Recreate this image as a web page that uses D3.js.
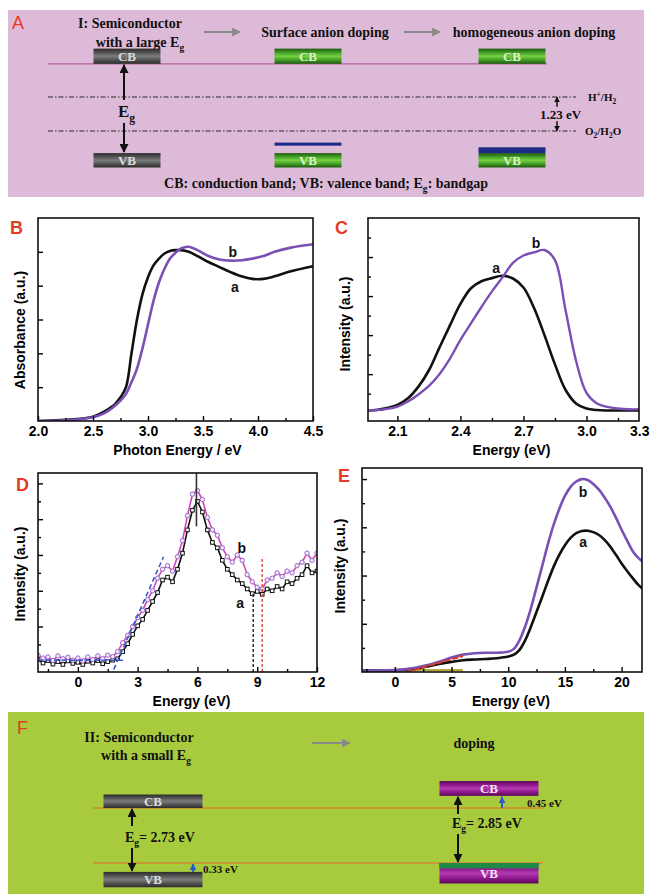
<!DOCTYPE html>
<html>
<head>
<meta charset="utf-8">
<script src="https://cdn.jsdelivr.net/npm/d3@7"></script>
<style>
  body { margin: 0; background: #fff; }
  svg { display: block; }
</style>
</head>
<body>
<svg id="chart" width="650" height="894"></svg>
<script>
// ---------- data ----------
// B: UV-vis absorbance (a.u.) vs photon energy (eV)
var absEnergy = [2.0,2.2,2.4,2.5,2.6,2.65,2.7,2.75,2.8,2.85,2.9,2.95,3.0,3.05,3.1,3.15,3.2,3.25,3.3,3.37,3.45,3.55,3.65,3.75,3.85,3.95,4.05,4.15,4.3,4.5];
var absA = [0,0.005,0.015,0.025,0.055,0.075,0.10,0.14,0.20,0.40,0.60,0.75,0.85,0.92,0.96,0.99,1.005,1.01,1.01,1.0,0.975,0.94,0.91,0.88,0.855,0.84,0.84,0.855,0.885,0.915];
var absB = [0,0.003,0.012,0.022,0.045,0.065,0.09,0.12,0.16,0.23,0.31,0.43,0.57,0.71,0.82,0.90,0.96,0.995,1.02,1.03,1.01,0.975,0.955,0.948,0.95,0.96,0.975,1.0,1.025,1.045];

// C: photoluminescence excitation intensity vs energy (eV)
var plEnergy = [1.95,2.0,2.05,2.1,2.15,2.2,2.25,2.3,2.35,2.4,2.45,2.5,2.55,2.6,2.65,2.7,2.75,2.8,2.85,2.9,2.95,3.0,3.05,3.1,3.15,3.2,3.25];
var plA = [0.06,0.08,0.13,0.21,0.38,0.68,1.10,1.68,2.25,2.80,3.20,3.38,3.46,3.52,3.45,3.22,2.70,2.00,1.25,0.60,0.25,0.12,0.08,0.07,0.07,0.07,0.07];
var plB = [0.06,0.08,0.11,0.17,0.30,0.48,0.70,1.00,1.40,1.88,2.30,2.72,3.12,3.48,3.85,4.04,4.12,4.18,3.92,2.65,1.35,0.52,0.25,0.16,0.12,0.10,0.10];

// D: valence band XPS intensity vs binding energy (eV)
var vbEnergy = [-2,-1.75,-1.5,-1.25,-1,-0.75,-0.5,-0.25,0,0.25,0.5,0.75,1,1.25,1.5,1.75,2,2.25,2.5,2.75,3,3.25,3.5,3.75,4,4.25,4.5,4.75,5,5.25,5.5,5.75,6,6.25,6.5,6.75,7,7.25,7.5,7.75,8,8.25,8.5,8.75,9,9.25,9.5,9.75,10,10.25,10.5,10.75,11,11.25,11.5,11.75,12];
var vbA = [0.08,-0.02,0.05,-0.05,0.02,-0.06,0.04,-0.03,
           0.00,-0.06,0.03,-0.02,0.05,-0.04,0.02,0.06,
           0.10,0.30,0.52,0.78,1.02,1.20,1.45,1.70,
           1.95,2.30,2.38,2.25,2.60,3.05,3.70,4.25,
           4.50,4.20,3.70,3.35,3.20,2.85,2.60,2.45,
           2.30,2.20,2.05,1.92,1.98,1.90,2.05,2.00,
           2.12,2.05,2.25,2.20,2.35,2.45,2.70,2.50,
           2.55];
var vbB = [0.20,0.12,0.15,0.05,0.18,0.10,0.14,0.06,
           0.12,0.04,0.15,0.08,0.18,0.10,0.20,0.16,
           0.30,0.55,0.75,1.00,1.25,1.45,1.75,2.00,
           2.35,2.60,2.70,2.55,2.95,3.40,4.10,4.70,
           4.80,4.55,4.05,3.70,3.55,3.20,2.95,2.80,
           3.00,2.85,2.45,2.25,2.10,2.05,2.30,2.35,
           2.50,2.40,2.55,2.50,2.70,2.80,3.05,2.85,
           3.05];
var vbEdgeFit = [[1.8,-0.2],[4.3,2.95]];
var vbBaseFit = [[-2,0.06],[2.4,0.06]];
var vbPeak = 5.95;
var vbMaxA = 8.8, vbMaxB = 9.25;

// E: intensity vs energy (eV)
var eEnergy = [-3,-1,0,1,2,3,4,5,6,7,8,9,10,10.5,11,11.5,12,12.5,13,13.5,14,14.5,15,15.5,16,16.5,17,17.5,18,18.5,19,19.5,20,20.5,21,21.5,22];
var eA = [0.03,0.03,0.035,0.05,0.08,0.12,0.17,0.21,0.245,0.26,0.27,0.285,0.32,0.36,0.46,0.66,0.94,1.25,1.56,1.88,2.18,2.43,2.63,2.78,2.88,2.925,2.93,2.9,2.84,2.74,2.6,2.43,2.25,2.09,1.94,1.8,1.7];
var eB = [0.03,0.035,0.04,0.06,0.1,0.15,0.22,0.3,0.36,0.39,0.4,0.4,0.42,0.48,0.66,0.95,1.32,1.76,2.2,2.65,3.05,3.38,3.65,3.84,3.95,4.0,3.98,3.9,3.78,3.62,3.43,3.2,2.95,2.72,2.5,2.36,2.26];
var eOnsetFit = [[1,0.0],[6,0.33]];
var eBaseFit = [[-3,0.04],[6,0.04]];

// A: band levels, eV on the NHE scale (schematic)
var colsA = ["large", "surface", "homogeneous"];
var redoxLevels = [0, 1.23];
var cbLevelA = [-1.75, -1.2];   // top, bottom of CB bar
var vbLevelA = [2.03, 2.55];    // top, bottom of VB bar
var anionLine = [1.65, 1.76];   // surface-doped anion states
var anionBand = [1.82, 2.03];   // homogeneously-doped anion band

// F: band levels (schematic, eV)
var colsF = ["undoped", "doped"];
var refLevelsF = [0, -2.04];
var cbF = [[0.5, 0], [1.0, 0.45]];        // top, bottom
var vbF = [[-2.37, -2.94], [-2.04, -2.8]]; // top, bottom
var vbDopantF = [-2.04, -2.24];

// ---------- setup ----------
var SANS = "'Liberation Sans', Arial, sans-serif";
var SERIF = "'Liberation Serif', 'Times New Roman', serif";
var RED = "#e53a28";
var PURPLE = "#7b50b4";

var svg = d3.select("#chart");
var defs = svg.append("defs");

function grad(id, stops) {
  var g = defs.append("linearGradient").attr("id", id)
    .attr("x1", 0).attr("y1", 0).attr("x2", 0).attr("y2", 1);
  stops.forEach(function(s) { g.append("stop").attr("offset", s[0]).attr("stop-color", s[1]); });
}
grad("gGray", [[0,"#2a2a2a"],[0.3,"#5a5a5a"],[0.5,"#7c7c7c"],[0.7,"#5a5a5a"],[1,"#2a2a2a"]]);
grad("gGreen", [[0,"#1d5a10"],[0.3,"#4aa82a"],[0.5,"#78d044"],[0.7,"#4aa82a"],[1,"#1d5a10"]]);
grad("gPurple", [[0,"#5a0858"],[0.3,"#961c94"],[0.5,"#b23ab0"],[0.7,"#961c94"],[1,"#5a0858"]]);

function marker(id, color, size) {
  defs.append("marker").attr("id", id).attr("viewBox", "0 0 10 10")
    .attr("refX", 9).attr("refY", 5)
    .attr("markerWidth", size).attr("markerHeight", size)
    .attr("markerUnits", "userSpaceOnUse").attr("orient", "auto-start-reverse")
    .append("path").attr("d", "M0,0L10,5L0,10z").attr("fill", color);
}
marker("hBlack", "#111", 9);
marker("hGray", "#8a8a8a", 9);
marker("hBlue", "#2a5ccc", 7);
marker("hSmall", "#111", 6);

function arrow(sel, x1, y1, x2, y2, color, w, head) {
  sel.append("line").attr("x1", x1).attr("y1", y1).attr("x2", x2).attr("y2", y2)
    .attr("stroke", color).attr("stroke-width", w)
    .attr("marker-end", "url(#" + head + ")");
}

// text with sub/superscripts
function rich(sel, x, y, parts, size, anchor) {
  var t = sel.append("text").attr("x", x).attr("y", y)
    .attr("font-family", SERIF).attr("font-weight", "bold")
    .attr("font-size", size).attr("fill", "#111")
    .attr("text-anchor", anchor || "start");
  var shift = 0;
  parts.forEach(function(pt) {
    var target = pt[1] === "sub" ? size * 0.3 : pt[1] === "sup" ? -size * 0.35 : 0;
    var s = t.append("tspan").text(pt[0]).attr("dy", target - shift);
    if (pt[1]) s.attr("font-size", size * 0.68);
    shift = target;
  });
  return t;
}

function letter(x, y, s, weight) {
  svg.append("text").attr("x", x).attr("y", y).text(s)
    .attr("font-family", SANS).attr("font-size", 18)
    .attr("font-weight", weight || "bold").attr("fill", RED);
}

// ---------- panel A ----------
var gA = svg.append("g");
gA.append("rect").attr("x", 8).attr("y", 10).attr("width", 636).attr("height", 187).attr("fill", "#debad9");
var xA = d3.scaleOrdinal().domain(colsA).range([127, 308, 512]);
var yA = d3.scaleLinear().domain([0, 1.23]).range([97, 131]);
var barA = 67;

letter(12, 29, "A", "normal");
rich(gA, 130, 28, [["I: Semiconductor"]], 14, "middle");
rich(gA, 140, 47, [["with a  large E"], ["g", "sub"]], 14, "middle");
arrow(gA, 204, 32, 240, 32, "#8a8a8a", 2, "hGray");
rich(gA, 325, 37, [["Surface anion doping"]], 14, "middle");
arrow(gA, 404, 32, 440, 32, "#8a8a8a", 2, "hGray");
rich(gA, 534, 37, [["homogeneous anion doping"]], 14, "middle");

// CB edge line
gA.append("line").attr("x1", 48).attr("x2", 547)
  .attr("y1", yA(cbLevelA[1])).attr("y2", yA(cbLevelA[1]))
  .attr("stroke", "#b0609f").attr("stroke-width", 1.2);

// redox levels
gA.selectAll("line.redox").data(redoxLevels).enter().append("line")
  .attr("x1", 48).attr("x2", 576)
  .attr("y1", function(d) { return yA(d); }).attr("y2", function(d) { return yA(d); })
  .attr("stroke", "#2a2a2a").attr("stroke-width", 1.2).attr("stroke-dasharray", "5,2,1.5,2");
rich(gA, 588, yA(redoxLevels[0]) + 4, [["H"], ["+", "sup"], ["/H"], ["2", "sub"]], 11);
rich(gA, 585, yA(redoxLevels[1]) + 4, [["O"], ["2", "sub"], ["/H"], ["2", "sub"], ["O"]], 11);
arrow(gA, 557, yA(0.35), 557, yA(0), "#111", 1.5, "hSmall");
arrow(gA, 557, yA(0.88), 557, yA(1.23), "#111", 1.5, "hSmall");
rich(gA, 540, yA(0.615) + 5, [["1.23 eV"]], 13);

// bands
colsA.forEach(function(c, i) {
  var fill = i === 0 ? "url(#gGray)" : "url(#gGreen)";
  var tc = i === 0 ? "#dcdcdc" : "#d8f2c4";
  [[cbLevelA, "CB"], [vbLevelA, "VB"]].forEach(function(b) {
    gA.append("rect").attr("x", xA(c) - barA / 2).attr("width", barA)
      .attr("y", yA(b[0][0])).attr("height", yA(b[0][1]) - yA(b[0][0])).attr("fill", fill);
    gA.append("text").attr("x", xA(c)).attr("y", (yA(b[0][0]) + yA(b[0][1])) / 2 + 4.5)
      .attr("text-anchor", "middle").attr("font-family", SERIF).attr("font-weight", "bold")
      .attr("font-size", 13).attr("fill", tc).text(b[1]);
  });
});
gA.append("rect").attr("x", xA("surface") - barA / 2).attr("width", barA)
  .attr("y", yA(anionLine[0])).attr("height", yA(anionLine[1]) - yA(anionLine[0])).attr("fill", "#1c2a88");
gA.append("rect").attr("x", xA("homogeneous") - barA / 2).attr("width", barA)
  .attr("y", yA(anionBand[0])).attr("height", yA(anionBand[1]) - yA(anionBand[0])).attr("fill", "#1c2a88");

// band gap arrow
arrow(gA, 124, 100, 124, yA(cbLevelA[1]) + 1, "#111", 2, "hBlack");
arrow(gA, 124, 123, 124, yA(vbLevelA[0]) - 1, "#111", 2, "hBlack");
rich(gA, 118, 117, [["E"], ["g", "sub"]], 17);

rich(gA, 326, 188, [["CB: conduction band;  VB: valence band;  E"], ["g", "sub"], [": bandgap"]], 14, "middle");

// ---------- plot panels ----------
function panel(p) {
  var g = svg.append("g");
  var x = d3.scaleLinear().domain(p.xDomain).range([p.left, p.right]);
  var y = d3.scaleLinear().domain(p.yDomain).range([p.bottom, p.top]);
  defs.append("clipPath").attr("id", "clip" + p.id).append("rect")
    .attr("x", p.left).attr("y", p.top).attr("width", p.right - p.left).attr("height", p.bottom - p.top);
  var plot = g.append("g").attr("clip-path", "url(#clip" + p.id + ")");
  var inside = p.xLabels.filter(function(v) { return v >= p.xDomain[0] && v <= p.xDomain[1]; });

  var ax = g.append("g").attr("transform", "translate(0," + p.bottom + ")");
  ax.append("g").call(d3.axisBottom(x).tickValues(inside).tickSize(-5).tickFormat(""));
  ax.append("g").call(d3.axisBottom(x).tickValues(p.xMinor).tickSize(-3).tickFormat(""));
  var lab = ax.append("g").call(d3.axisBottom(x).tickValues(p.xLabels).tickSize(0).tickPadding(5).tickFormat(p.xFmt))
    .attr("font-family", SANS).attr("font-size", 14).attr("font-weight", "bold");
  // keep a label that falls past the image edge readable
  lab.selectAll(".tick text").each(function(d) {
    if (x(d) > 638) d3.select(this).attr("text-anchor", "end").attr("x", 649 - x(d));
  });
  var ay = g.append("g").attr("transform", "translate(" + p.left + ",0)");
  ay.append("g").call(d3.axisLeft(y).tickValues(p.yMajor).tickSize(-5).tickFormat(""));
  if (p.yMinor) ay.append("g").call(d3.axisLeft(y).tickValues(p.yMinor).tickSize(-3).tickFormat(""));
  g.selectAll(".domain").remove();
  g.selectAll(".tick line").attr("stroke-width", 1.4);

  g.append("rect").attr("x", p.left).attr("y", p.top)
    .attr("width", p.right - p.left).attr("height", p.bottom - p.top)
    .attr("fill", "none").attr("stroke", "#111").attr("stroke-width", 1.6);

  g.append("text").attr("x", (p.left + p.right) / 2 + (p.xtDx || 0)).attr("y", p.bottom + 29)
    .attr("dominant-baseline", "central").attr("text-anchor", "middle")
    .attr("font-family", SANS).attr("font-size", 14).attr("font-weight", "bold").text(p.xTitle);
  g.append("text").attr("transform", "translate(" + p.ytX + "," + p.ytY + ") rotate(-90)")
    .attr("dominant-baseline", "central").attr("text-anchor", "middle")
    .attr("font-family", SANS).attr("font-size", 14).attr("font-weight", "bold").text(p.yTitle);
  letter(p.lx, p.ly, p.id);
  return { g: g, plot: plot, x: x, y: y };
}

function curve(P, xs, ys, color, w) {
  var line = d3.line().x(function(d, i) { return P.x(xs[i]); }).y(function(d) { return P.y(d); })
    .curve(d3.curveCatmullRom);
  P.plot.append("path").datum(ys).attr("d", line)
    .attr("fill", "none").attr("stroke", color).attr("stroke-width", w).attr("stroke-linejoin", "round");
}
function seg(P, pts, color, w, dash) {
  P.plot.append("path").datum(pts)
    .attr("d", d3.line().x(function(d) { return P.x(d[0]); }).y(function(d) { return P.y(d[1]); }))
    .attr("fill", "none").attr("stroke", color).attr("stroke-width", w)
    .attr("stroke-dasharray", dash || null);
}
function label(P, xv, yv, s) {
  P.g.append("text").attr("x", P.x(xv)).attr("y", P.y(yv)).attr("dominant-baseline", "central")
    .attr("text-anchor", "middle").attr("font-family", SANS).attr("font-size", 14)
    .attr("font-weight", "bold").attr("fill", "#111").text(s);
}

// B
var PB = panel({ id: "B", left: 38, top: 218, right: 313, bottom: 421,
  xDomain: [2.0, 4.5], yDomain: [0, 1.2],
  xLabels: [2.0, 2.5, 3.0, 3.5, 4.0, 4.5], xMinor: [2.25, 2.75, 3.25, 3.75, 4.25],
  yMajor: [0.2, 0.4, 0.6, 0.8, 1.0], xFmt: d3.format(".1f"),
  xTitle: "Photon Energy / eV", yTitle: "Absorbance (a.u.)", ytX: 20, ytY: 330, xtDx: 2,
  lx: 10, ly: 234 });
curve(PB, absEnergy, absA, "#111", 2.6);
curve(PB, absEnergy, absB, PURPLE, 2.6);
label(PB, 3.77, 1.0, "b");
label(PB, 3.79, 0.79, "a");

// C
var PC = panel({ id: "C", left: 368, top: 218, right: 639, bottom: 421,
  xDomain: [1.96, 3.25], yDomain: [-0.2, 5.0],
  xLabels: [2.1, 2.4, 2.7, 3.0, 3.3], xMinor: [2.25, 2.55, 2.85, 3.15],
  yMajor: [1, 2, 3, 4], yMinor: [0.5, 1.5, 2.5, 3.5, 4.5], xFmt: d3.format(".1f"),
  xTitle: "Energy (eV)", yTitle: "Intensity (a.u.)", ytX: 345, ytY: 324, xtDx: 8,
  lx: 335, ly: 234 });
curve(PC, plEnergy, plA, "#111", 2.6);
curve(PC, plEnergy, plB, PURPLE, 2.4);
label(PC, 2.57, 3.72, "a");
label(PC, 2.76, 4.36, "b");

// D
var PD = panel({ id: "D", left: 38, top: 473, right: 317, bottom: 672,
  xDomain: [-2, 12], yDomain: [-0.27, 5.29],
  xLabels: [0, 3, 6, 9, 12], xMinor: [-1.5, 1.5, 4.5, 7.5, 10.5],
  yMajor: [1, 2, 3, 4, 5], yMinor: [0.5, 1.5, 2.5, 3.5, 4.5], xFmt: d3.format("d"),
  xTitle: "Energy (eV)", yTitle: "Intensity (a.u.)", ytX: 20, ytY: 574, xtDx: 14,
  lx: 16, ly: 491 });
var lineD = d3.line().x(function(d, i) { return PD.x(vbEnergy[i]); }).y(function(d) { return PD.y(d); });
PD.plot.append("path").datum(vbA).attr("d", lineD).attr("fill", "none").attr("stroke", "#111").attr("stroke-width", 1.6);
PD.plot.selectAll("rect.ma").data(vbA).enter().append("rect")
  .attr("x", function(d, i) { return PD.x(vbEnergy[i]) - 1.8; })
  .attr("y", function(d) { return PD.y(d) - 1.8; })
  .attr("width", 3.6).attr("height", 3.6).attr("fill", "#fff").attr("stroke", "#111").attr("stroke-width", 1);
PD.plot.append("path").datum(vbB).attr("d", lineD).attr("fill", "none").attr("stroke", "#d046b8").attr("stroke-width", 1.6);
PD.plot.selectAll("circle.mb").data(vbB).enter().append("circle")
  .attr("cx", function(d, i) { return PD.x(vbEnergy[i]); })
  .attr("cy", function(d) { return PD.y(d); })
  .attr("r", 2.2).attr("fill", "#f4e8f8").attr("stroke", "#9a64cc").attr("stroke-width", 1);
seg(PD, vbEdgeFit, "#3a5ad0", 1.6, "5,3");
seg(PD, vbBaseFit, "#3a5ad0", 1.6, "5,3");
seg(PD, [[vbPeak, 3.8], [vbPeak, 5.29]], "#333", 1.6);
seg(PD, [[vbMaxA, -0.27], [vbMaxA, 1.95]], "#222", 1.4, "3,2");
seg(PD, [[vbMaxB, -0.27], [vbMaxB, 2.95]], "#e05030", 1.4, "3,2");
label(PD, 8.22, 3.19, "b");
label(PD, 8.14, 1.66, "a");

// E
var PE = panel({ id: "E", left: 362, top: 468, right: 642, bottom: 672,
  xDomain: [-2.9, 21.8], yDomain: [0, 4.23],
  xLabels: [0, 5, 10, 15, 20], xMinor: [-2.5, 2.5, 7.5, 12.5, 17.5],
  yMajor: [1, 2, 3, 4], yMinor: [0.5, 1.5, 2.5, 3.5], xFmt: d3.format("d"),
  xTitle: "Energy (eV)", yTitle: "Intensity (a.u.)", ytX: 340, ytY: 566, xtDx: 9,
  lx: 338, ly: 482 });
seg(PE, eBaseFit, "#b8a83a", 2.2);
curve(PE, eEnergy, eA, "#111", 2.6);
curve(PE, eEnergy, eB, PURPLE, 2.6);
seg(PE, eOnsetFit, "#d83a2a", 2.2, "6,2");
label(PE, 16.6, 3.74, "b");
label(PE, 16.6, 2.70, "a");

// ---------- panel F ----------
var gF = svg.append("g");
gF.append("rect").attr("x", 8).attr("y", 712).attr("width", 636).attr("height", 182).attr("fill", "#a8cb3e");
var xF = d3.scaleOrdinal().domain(colsF).range([153, 489]);
var yF = d3.scaleLinear().domain([0, -2.04]).range([808, 863]);
var barF = 99;

letter(17, 734, "F", "normal");
rich(gF, 139, 742, [["II: Semiconductor"]], 14, "middle");
rich(gF, 146, 760, [["with a  small E"], ["g", "sub"]], 14, "middle");
arrow(gF, 312, 743, 350, 743, "#8a8a8a", 2, "hGray");
rich(gF, 474, 748, [["doping"]], 14, "middle");

gF.selectAll("line.ref").data(refLevelsF).enter().append("line")
  .attr("x1", 93).attr("x2", 543)
  .attr("y1", function(d) { return yF(d); }).attr("y2", function(d) { return yF(d); })
  .attr("stroke", "#d08a2c").attr("stroke-width", 1.6);

colsF.forEach(function(c, i) {
  var fill = i === 0 ? "url(#gGray)" : "url(#gPurple)";
  var tc = i === 0 ? "#dcdcdc" : "#f6e2f6";
  [[cbF[i], "CB"], [vbF[i], "VB"]].forEach(function(b) {
    gF.append("rect").attr("x", xF(c) - barF / 2).attr("width", barF)
      .attr("y", yF(b[0][0])).attr("height", yF(b[0][1]) - yF(b[0][0])).attr("fill", fill);
    gF.append("text").attr("x", xF(c)).attr("y", (yF(b[0][0]) + yF(b[0][1])) / 2 + 4.5)
      .attr("text-anchor", "middle").attr("font-family", SERIF).attr("font-weight", "bold")
      .attr("font-size", 13).attr("fill", tc).text(b[1]);
  });
});
gF.append("rect").attr("x", xF("doped") - barF / 2).attr("width", barF)
  .attr("y", yF(vbDopantF[0])).attr("height", yF(vbDopantF[1]) - yF(vbDopantF[0]))
  .attr("fill", "#1f8a48");

// gap arrows
arrow(gF, 132, 826, 132, yF(cbF[0][1]) + 1, "#111", 2, "hBlack");
arrow(gF, 132, 848, 132, yF(vbF[0][0]) - 1, "#111", 2, "hBlack");
rich(gF, 125, 842, [["E"], ["g", "sub"], ["= 2.73 eV"]], 14);
arrow(gF, 458, 814, 458, yF(cbF[1][1]) + 1, "#111", 2, "hBlack");
arrow(gF, 458, 834, 458, yF(vbF[1][0]) - 1, "#111", 2, "hBlack");
rich(gF, 452, 828, [["E"], ["g", "sub"], ["= 2.85 eV"]], 14);

// small shifts
arrow(gF, 193, yF(vbF[0][0]), 193, yF(refLevelsF[1]) + 1, "#2a5ccc", 2, "hBlue");
rich(gF, 203, 873, [["0.33  eV"]], 11);
arrow(gF, 502, yF(refLevelsF[0]), 502, yF(cbF[1][1]) + 1, "#2a5ccc", 2, "hBlue");
rich(gF, 527, 807, [["0.45  eV"]], 11);
</script>
</body>
</html>
